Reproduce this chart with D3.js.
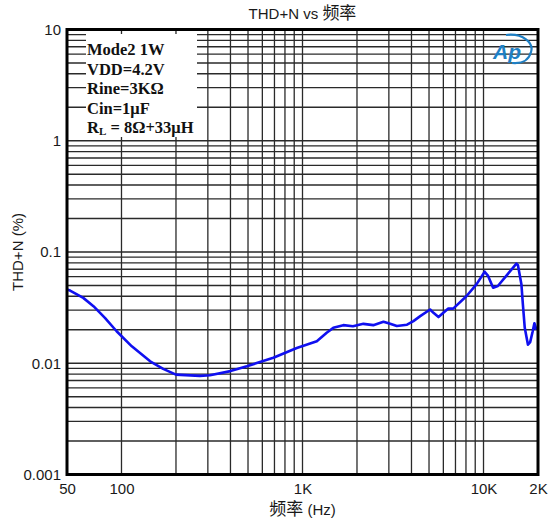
<!DOCTYPE html>
<html><head><meta charset="utf-8">
<script src="https://cdn.jsdelivr.net/npm/d3@7"></script>
<style>body{margin:0;background:#fff}svg{display:block}</style>
</head><body><svg id="c" width="555" height="527"></svg>
<script>
const freqHz = [50, 52, 61.5, 70, 81, 94, 114, 144, 170, 200, 271, 308, 400, 493, 690, 930, 1200, 1360, 1480, 1680, 1900, 2170, 2460, 2800, 3050, 3320, 3780, 4100, 4470, 5070, 5290, 5640, 6390, 6800, 8040, 9140, 10150, 10600, 11300, 12000, 15200, 15500, 16200, 16500, 16900, 17600, 18100, 18700, 19100, 19600];
const thdPct = [0.046, 0.045, 0.0387, 0.0326, 0.0256, 0.0194, 0.0142, 0.0104, 0.0089, 0.0079, 0.0077, 0.0078, 0.0085, 0.0094, 0.0112, 0.0137, 0.0158, 0.0188, 0.0208, 0.022, 0.0215, 0.0226, 0.022, 0.0236, 0.0226, 0.0216, 0.0222, 0.0239, 0.0265, 0.0304, 0.0284, 0.026, 0.031, 0.031, 0.040, 0.0512, 0.0665, 0.061, 0.0477, 0.0495, 0.0785, 0.076, 0.051, 0.0338, 0.0208, 0.0147, 0.0155, 0.0194, 0.0229, 0.020];
const xTickVals = [50, 100, 1000, 10000, 20000];
const xTickLabels = ["50", "100", "1K", "10K", "2K"];
const yTickVals = [10, 1, 0.1, 0.01, 0.001];
const yTickLabels = ["10", "1", "0.1", "0.01", "0.001"];
const legendLines = ["Mode2 1W", "VDD=4.2V", "Rine=3KΩ", "Cin=1μF"];
const titleText = ["THD+N vs ", "频率"];
const xLabelText = ["频率", " (Hz)"];
const yLabelText = "THD+N (%)";

const L = 67, R = 538, T = 29.5, B = 474.5;
const svg = d3.select("#c");
const x = d3.scaleLog().domain([50, 20000]).range([L, R]);
const y = d3.scaleLog().domain([0.001, 10]).range([B, T]);

// grid
const xGrid = [];
for (let d = 100; d <= 10000; d *= 10) for (let m = 1; m <= 9; m++) { const v = d * m; if (v > 50 && v < 20000) xGrid.push(v); }
const yGrid = [];
for (let d = 0.001; d < 10; d *= 10) for (let m = 1; m <= 9; m++) { const v = d * m; if (v > 0.001 * 1.0001 && v < 9.999) yGrid.push(v); }
const g = svg.append("g");
g.selectAll("line.h").data(yGrid).join("line").attr("class", "h")
  .attr("x1", L).attr("x2", R).attr("y1", d => y(d)).attr("y2", d => y(d))
  .attr("stroke", "#2a2a2a").attr("stroke-width", 1.3);
g.selectAll("line.v").data(xGrid).join("line").attr("class", "v")
  .attr("y1", T).attr("y2", B).attr("x1", d => x(d)).attr("x2", d => x(d))
  .attr("stroke", "#2a2a2a").attr("stroke-width", 1.3);

// legend background
svg.append("rect").attr("x", 86).attr("y", 34).attr("width", 111).attr("height", 103).attr("fill", "#fff");

// curve
const line = d3.line().x((d, i) => x(freqHz[i])).y(d => y(d));
svg.append("path").datum(thdPct).attr("d", line).attr("fill", "none")
  .attr("stroke", "#1010f0").attr("stroke-width", 2.6).attr("stroke-linejoin", "round");

// border
svg.append("rect").attr("x", L).attr("y", T).attr("width", R - L).attr("height", B - T)
  .attr("fill", "none").attr("stroke", "#000").attr("stroke-width", 3);

// axes labels via d3 axis
const xAxis = d3.axisBottom(x).tickValues(xTickVals).tickFormat((d, i) => xTickLabels[i]).tickSize(0).tickPadding(9);
const xa = svg.append("g").attr("transform", `translate(0,${B})`).call(xAxis);
xa.select(".domain").remove();
xa.selectAll("text").attr("font-family", "Liberation Sans, Arial, sans-serif").attr("font-size", 15).attr("fill", "#1a1a1a");
const yAxis = d3.axisLeft(y).tickValues(yTickVals).tickFormat((d, i) => yTickLabels[i]).tickSize(0).tickPadding(6);
const ya = svg.append("g").attr("transform", `translate(${L},0)`).call(yAxis);
ya.select(".domain").remove();
ya.selectAll("text").attr("font-family", "Liberation Sans, Arial, sans-serif").attr("font-size", 15).attr("fill", "#1a1a1a");

// title
const tt = svg.append("text").attr("x", (L + R) / 2).attr("y", 19).attr("text-anchor", "middle")
  .attr("font-family", "Liberation Sans, Arial, sans-serif").attr("font-size", 15).attr("fill", "#1a1a1a");
tt.append("tspan").text(titleText[0]);
tt.append("tspan").attr("font-family", "Noto Sans CJK SC").attr("font-size", 17).text(titleText[1]);

// x label
const xl = svg.append("text").attr("x", (L + R) / 2).attr("y", 515).attr("text-anchor", "middle")
  .attr("font-family", "Liberation Sans, Arial, sans-serif").attr("font-size", 15).attr("fill", "#1a1a1a");
xl.append("tspan").attr("font-family", "Noto Sans CJK SC").attr("font-size", 17).text(xLabelText[0]);
xl.append("tspan").text(xLabelText[1]);

// y label
svg.append("text").attr("transform", `translate(23,${(T + B) / 2}) rotate(-90)`).attr("text-anchor", "middle")
  .attr("font-family", "Liberation Sans, Arial, sans-serif").attr("font-size", 15).attr("fill", "#1a1a1a").text(yLabelText);

// legend text
const lg = svg.append("g").attr("font-family", "Liberation Serif, Times New Roman, serif").attr("font-weight", "bold").attr("font-size", 16.5).attr("fill", "#111");
legendLines.forEach((s, i) => lg.append("text").attr("x", 87).attr("y", 55 + i * 19.5).text(s));
const rl = lg.append("text").attr("x", 87).attr("y", 55 + 4 * 19.5);
rl.append("tspan").text("R");
rl.append("tspan").attr("font-size", 11).attr("dy", 2).text("L");
rl.append("tspan").attr("dy", -2).text(" = 8Ω+33μH");

// Ap logo
const logo = svg.append("g").attr("fill", "none").attr("stroke", "#1e7fc4");
logo.append("path").attr("d", "M506,35 C523,33 534,43 531,52 C529,60 522,64 512,63").attr("stroke-width", 2.2);
svg.append("text").attr("x", 493).attr("y", 59).attr("font-family", "Liberation Sans, Arial, sans-serif")
  .attr("font-style", "italic").attr("font-weight", "bold").attr("font-size", 21).attr("fill", "#1e7fc4").text("Ap");
</script></body></html>
